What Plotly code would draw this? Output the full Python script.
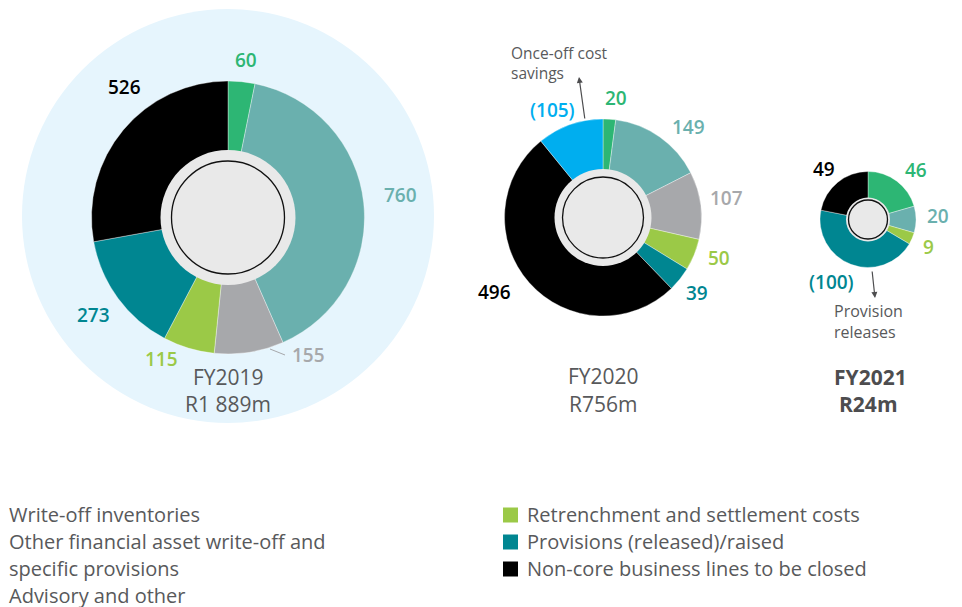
import plotly.graph_objects as go

W, H = 962, 607
OFF = 8  # page body margin shifts the figure by this many pixels

# data
categories = [
    "Write-off inventories",
    "Other financial asset write-off and specific provisions",
    "Advisory and other",
    "Retrenchment and settlement costs",
    "Provisions (released)/raised",
    "Non-core business lines to be closed",
    "Once-off cost savings",
]
fy2019_cats = [0, 1, 2, 3, 4, 5]
fy2019_vals = [60, 760, 155, 115, 273, 526]
fy2020_cats = [0, 1, 2, 3, 4, 5, 6]
fy2020_vals = [20, 149, 107, 50, 39, 496, -105]
fy2021_cats = [0, 1, 3, 4, 5]
fy2021_vals = [46, 20, 9, -100, 49]
years = ["FY2019", "FY2020", "FY2021"]
totals = ["R1 889m", "R756m", "R24m"]

colors = ["#2db674", "#6ab0ae", "#a7a8ab", "#9bc947", "#008691", "#000000", "#00aeef"]
TEXT = "#58595b"
FONT = "'Open Sans', Lato, sans-serif"


def fx(x):
    return (x - OFF) / W


def fy(y):
    return 1 - (y - OFF) / H


def fmt(v):
    return f"({abs(v)})" if v < 0 else str(v)


# donut geometry in pixels: centre x, centre y, outer r, grey disc r, ring r
donuts = [
    (228, 217.5, 136.5, 67.5, 56.5),
    (603, 217.5, 98.5, 48.5, 40.5),
    (868, 219.5, 48, 22, 19.5),
]
series = [(fy2019_cats, fy2019_vals), (fy2020_cats, fy2020_vals), (fy2021_cats, fy2021_vals)]

fig = go.Figure()

for (cx, cy, r, rg, rr), (cats, vals) in zip(donuts, series):
    fig.add_trace(go.Pie(
        labels=[categories[c] for c in cats],
        values=[abs(v) for v in vals],
        marker=dict(colors=[colors[c] for c in cats], line=dict(color="rgba(255,255,255,0.6)", width=0.6)),
        sort=False,
        direction="clockwise",
        rotation=0,
        hole=0.4,
        textinfo="none",
        hoverinfo="label+value",
        domain=dict(x=[fx(cx - r), fx(cx + r)], y=[fy(cy + r), fy(cy - r)]),
    ))

shapes = []
# light blue backdrop behind FY2019
shapes.append(dict(type="circle", xref="paper", yref="paper", layer="below",
                   x0=fx(228 - 206), x1=fx(228 + 206), y0=fy(216 + 207), y1=fy(216 - 207),
                   fillcolor="#e6f5fd", line=dict(width=0)))
for cx, cy, r, rg, rr in donuts:
    shapes.append(dict(type="circle", xref="paper", yref="paper", layer="above",
                       x0=fx(cx - rg), x1=fx(cx + rg), y0=fy(cy + rg), y1=fy(cy - rg),
                       fillcolor="#e9e9e9", line=dict(width=0)))
    shapes.append(dict(type="circle", xref="paper", yref="paper", layer="above",
                       x0=fx(cx - rr), x1=fx(cx + rr), y0=fy(cy + rr), y1=fy(cy - rr),
                       fillcolor="rgba(0,0,0,0)", line=dict(color="#111111", width=1.3)))
# leader line for 155
shapes.append(dict(type="line", xref="paper", yref="paper",
                   x0=fx(270), y0=fy(349), x1=fx(285), y1=fy(355),
                   line=dict(color="#a7a8ab", width=1)))

annotations = []


def label(text, x, y, color, size=18, anchor="center", weight="normal"):
    annotations.append(dict(text=text, x=fx(x), y=fy(y), xref="paper", yref="paper",
                            showarrow=False, xanchor=anchor, yanchor="middle", align=anchor,
                            font=dict(family=FONT, size=size, color=color, weight=weight)))


# value labels (pixel anchor positions)
pos2019 = [(246, 60), (400, 195), (308, 355), (161, 359), (93, 315), (124, 87)]
pos2020 = [(616, 98), (688, 127), (726, 198), (719, 258), (697, 293), (495, 292), (552, 110)]
pos2021 = [(916, 170), (938, 216), (928, 247), (831, 282), (824, 169)]
for (cats, vals), pos in zip(series, [pos2019, pos2020, pos2021]):
    for c, v, (x, y) in zip(cats, vals, pos):
        label(fmt(v), x, y, colors[c], size=19, weight=600)

# titles under each donut
label(years[0], 228, 377, TEXT, size=21)
label(totals[0], 228, 404, TEXT, size=21)
label(years[1], 603, 376, TEXT, size=21)
label(totals[1], 603, 404, TEXT, size=21)
label(years[2], 870, 377, "#4d4d4f", size=21, weight="bold")
label(totals[2], 868, 404, "#4d4d4f", size=21, weight="bold")

# callouts
label("Once-off cost<br>savings", 509, 63.5, TEXT, size=15.5, anchor="left")
label("Provision", 832, 311, TEXT, size=16, anchor="left")
label("releases", 832, 332, TEXT, size=16, anchor="left")
for tip, tail in [((579, 77), (585, 120)), ((875, 298), (872, 270))]:
    annotations.append(dict(text="", x=fx(tip[0]), y=fy(tip[1]), xref="paper", yref="paper",
                            ax=tail[0] - tip[0], ay=tail[1] - tip[1], axref="pixel", ayref="pixel",
                            showarrow=True, arrowhead=2, arrowsize=1, arrowwidth=1.2,
                            arrowcolor="#4d4d4f", standoff=0, startstandoff=0))

# legend (left column sits against the page edge)
left_lines = [("Write-off inventories", 514), ("Other financial asset write-off and", 541),
              ("specific provisions", 568), ("Advisory and other", 595)]
for t, y in left_lines:
    label(t, 7, y, TEXT, size=20, anchor="left")
for i, c in enumerate([3, 4, 5]):
    y = 515 + 27 * i
    shapes.append(dict(type="rect", xref="paper", yref="paper",
                       x0=fx(503), x1=fx(518), y0=fy(y + 7.5), y1=fy(y - 7.5),
                       fillcolor=colors[c], line=dict(width=0)))
    label(categories[c], 525, y - 1, TEXT, size=20, anchor="left")

fig.update_layout(
    width=W, height=H,
    margin=dict(l=0, r=0, t=0, b=0),
    paper_bgcolor="white",
    plot_bgcolor="white",
    showlegend=False,
    shapes=shapes,
    annotations=annotations,
)

fig.write_html("out.html")
